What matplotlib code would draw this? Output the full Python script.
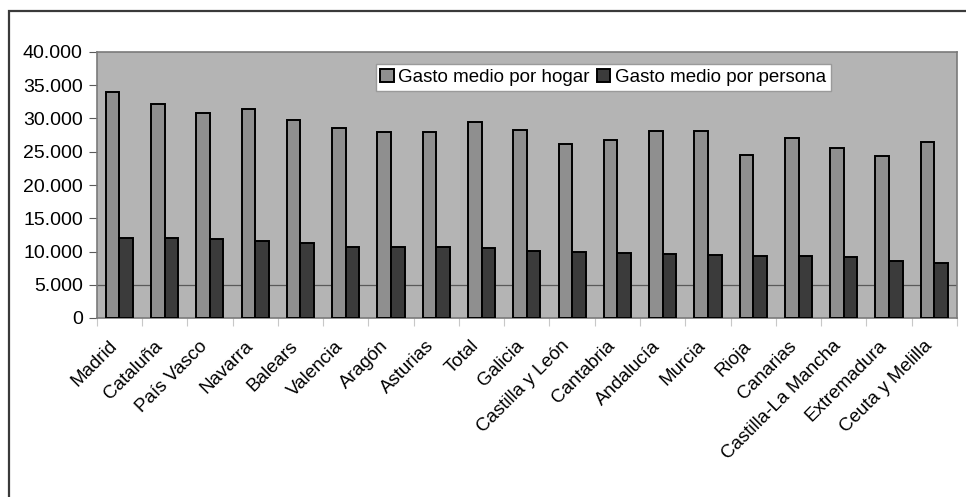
import numpy as np
import matplotlib
matplotlib.use("Agg")
import matplotlib.pyplot as plt
import matplotlib.patches as mpatches
import matplotlib.transforms as mtrans
from matplotlib.ticker import FuncFormatter, FixedLocator

plt.rcParams['font.family'] = ['Liberation Sans', 'DejaVu Sans']

# Datos
regiones = ["Madrid", "Cataluña", "País Vasco", "Navarra", "Balears", "Valencia",
            "Aragón", "Asturias", "Total", "Galicia", "Castilla y León", "Cantabria",
            "Andalucía", "Murcia", "Rioja", "Canarias", "Castilla-La Mancha",
            "Extremadura", "Ceuta y Melilla"]
gasto_hogar = [34000, 32200, 30800, 31400, 29700, 28600, 28000, 27900, 29500, 28200,
               26100, 26800, 28100, 28100, 24500, 27000, 25500, 24400, 26500]
gasto_persona = [12100, 12000, 11900, 11600, 11300, 10700, 10700, 10700, 10600, 10100,
                 10000, 9700, 9600, 9400, 9300, 9300, 9100, 8600, 8200]
etiquetas_y = [0, 5000, 10000, 15000, 20000, 25000, 30000, 35000, 40000]

W, H = 966, 497
fig = plt.figure(figsize=(W / 100, H / 100), dpi=100)

# Marco exterior del gráfico (cortado a la derecha y abajo)
marco = mpatches.Rectangle((9 / W, -0.1), 1.2, 1 - 11 / H + 0.1, transform=fig.transFigure,
                           fill=False, edgecolor="#3a3a3a", lw=1.6, zorder=0)
fig.patches.append(marco)

ax = fig.add_axes([96.7 / W, 1 - 318 / H, (957 - 96.7) / W, (318 - 52) / H])
ax.set_facecolor("#b4b4b4")

x = np.arange(len(regiones))
ancho = 0.3
ax.bar(x - ancho / 2, gasto_hogar, ancho, color="#8f8f8f", edgecolor="black",
       lw=1.4, zorder=3, label="Gasto medio por hogar")
ax.bar(x + ancho / 2, gasto_persona, ancho, color="#3b3b3b", edgecolor="black",
       lw=1.4, zorder=3, label="Gasto medio por persona")

ax.axhline(5000, color="#5a5a5a", lw=0.9, zorder=1)

ax.set_xlim(-0.5, len(regiones) - 0.5)
ax.set_ylim(0, 40000)
ax.yaxis.set_major_locator(FixedLocator(etiquetas_y))
ax.yaxis.set_major_formatter(FuncFormatter(lambda v, p: f"{int(v):,}".replace(",", ".")))
ax.tick_params(axis="y", labelsize=14, length=6, width=0.8, color="#5a5a5a", pad=4)

ax.set_xticks(x)
ax.set_xticklabels(regiones, rotation=45, ha="right", rotation_mode="anchor", fontsize=13.5)
ax.tick_params(axis="x", length=0, pad=14)
desplaza = mtrans.ScaledTranslation(-11 / 100, 0, fig.dpi_scale_trans)
for lab in ax.get_xticklabels():
    lab.set_transform(lab.get_transform() + desplaza)
ax.set_xticks(np.arange(len(regiones) + 1) - 0.5, minor=True)
ax.tick_params(axis="x", which="minor", length=6, width=0.8, color="#c8c8c8")

for s in ax.spines.values():
    s.set_color("#7a7a7a")
    s.set_linewidth(1.2)

ax.legend(loc="upper left", bbox_to_anchor=(375.7 / W, 1 - 64.3 / H),
          bbox_transform=fig.transFigure, ncol=2, fontsize=13.5, frameon=True,
          fancybox=False, edgecolor="#9a9a9a", framealpha=1, borderpad=0.25,
          handlelength=0.7, handleheight=0.7, handletextpad=0.25,
          columnspacing=0.4, borderaxespad=0)

fig.savefig("out.png", dpi=100)
